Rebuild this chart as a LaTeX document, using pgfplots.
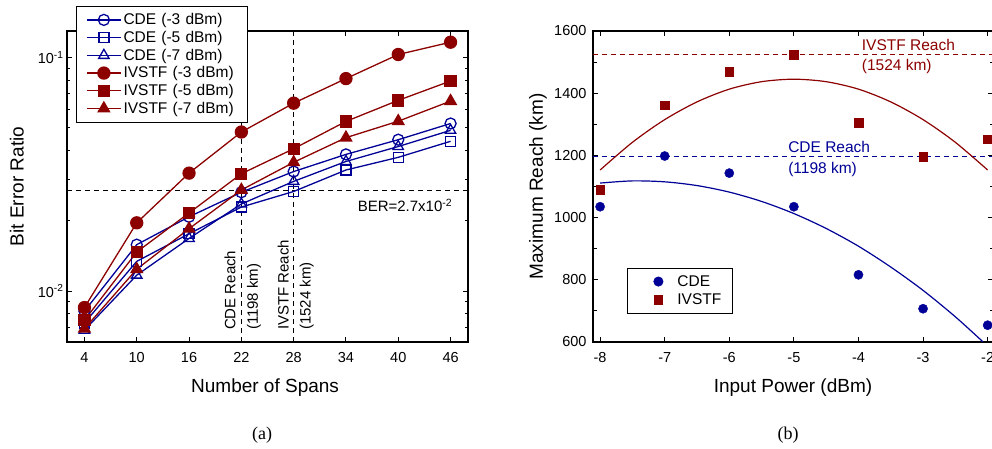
\documentclass[border=0pt]{standalone}
\usepackage{fontspec}
\setmainfont{Liberation Sans}
\newfontfamily\timesfont{Liberation Serif}
\usepackage{pgfplots}
\pgfplotsset{compat=1.18}
\usepackage{pgfplotstable}
\definecolor{cdeblue}{RGB}{0,0,150}
\definecolor{ivred}{RGB}{140,0,0}

\pgfplotstableread{
spans cde3   cde5   cde7   iv3    iv5    iv7
4     0.0082 0.0073 0.0068 0.0085 0.0075 0.0069
10    0.0158 0.0134 0.0117 0.0196 0.0147 0.0124
16    0.0208 0.0176 0.0168 0.0320 0.0216 0.0185
22    0.0265 0.0229 0.0236 0.0480 0.0318 0.0271
28    0.0325 0.0267 0.0295 0.0638 0.0407 0.0356
34    0.0385 0.0330 0.0359 0.0813 0.0533 0.0454
40    0.0445 0.0374 0.0416 0.1031 0.0656 0.0534
46    0.0522 0.0438 0.0488 0.1164 0.0794 0.0651
}\bertable

\pgfplotstableread{
p   cde  ivstf
-8  1035 1089
-7  1198 1361
-6  1143 1469
-5  1035 1524
-4  816  1306
-3  707  1196
-2  654  1252
}\reachtable

\tikzset{dashline/.style={line width=1pt, dash pattern=on 5pt off 4pt}}
\pgfplotsset{
  every axis/.append style={
    scale only axis,
    axis line style={line width=1.1pt},
    every tick/.style={black, line width=1pt},
    major tick length=5pt,
    minor tick length=3.5pt,
    tick align=inside,
    tick label style={font=\fontsize{14.5}{16}\selectfont},
    xticklabel style={yshift=-7pt},
    label style={font=\fontsize{19}{22}\selectfont},
    /pgf/number format/assume math mode=true,
    /pgf/number format/1000 sep={},
  },
}

\begin{document}
\begin{tikzpicture}
\path[use as bounding box] (0pt,0pt) rectangle (992pt,449pt);

% (a) BER against number of spans
\begin{axis}[
  at={(67pt,107pt)}, anchor=south west,
  width=401pt, height=311pt,
  ymode=log,
  xmin=2, xmax=48, ymin=0.00605, ymax=0.13,
  xtick={4,10,...,46},
  ytick={0.01,0.1},
  yticklabels={10\textsuperscript{-2},10\textsuperscript{-1}},
  minor ytick={0.007,0.008,0.009,0.02,0.03,0.04,0.05,0.06,0.07,0.08,0.09},
  xlabel={Number of Spans},
  ylabel={Bit Error Ratio},
  x label style={at={(axis description cs:0.494,-0.145)}, anchor=center},
  y label style={at={(axis description cs:-0.125,0.5)}, anchor=center},
  legend style={at={(axis description cs:0.022,1.080)}, anchor=north west,
    draw=black, line width=0.8pt, fill=white,
    font=\fontsize{15.5}{17}\selectfont, inner xsep=10pt, inner ysep=5pt,
    row sep=1pt, cells={anchor=west, text width=112pt}},
  legend image code/.code={
    \draw[mark repeat=2,mark phase=2,#1] plot coordinates {(0pt,0pt) (17pt,0pt) (34pt,0pt)};
  },
  every axis plot/.append style={line width=1.3pt},
]
\draw[dashline] (axis cs:2,0.027) -- (axis cs:48,0.027);
\draw[dashline] (axis cs:22,0.13) -- (axis cs:22,0.00605);
\draw[dashline] (axis cs:28,0.13) -- (axis cs:28,0.00605);

\addplot[cdeblue, mark=o, mark size=5.5pt, mark options={solid, fill=white, line width=1.3pt}] table[x=spans, y=cde3] {\bertable};
\addlegendentry{CDE (-3 dBm)}
\addplot[cdeblue, mark=square, mark size=5pt, mark options={solid, fill=white, line width=1.3pt}] table[x=spans, y=cde5] {\bertable};
\addlegendentry{CDE (-5 dBm)}
\addplot[cdeblue, mark=triangle, mark size=6pt, mark options={solid, fill=white, line width=1.3pt}] table[x=spans, y=cde7] {\bertable};
\addlegendentry{CDE (-7 dBm)}
\addplot[ivred, mark=*, mark size=6pt, mark options={solid, fill=ivred}] table[x=spans, y=iv3] {\bertable};
\addlegendentry{IVSTF (-3 dBm)}
\addplot[ivred, mark=square*, mark size=5.5pt, mark options={solid, fill=ivred}] table[x=spans, y=iv5] {\bertable};
\addlegendentry{IVSTF (-5 dBm)}
\addplot[ivred, mark=triangle*, mark size=6.5pt, mark options={solid, fill=ivred}] table[x=spans, y=iv7] {\bertable};
\addlegendentry{IVSTF (-7 dBm)}

\node[anchor=east, font=\fontsize{15}{17}\selectfont] at (axis cs:46.6,0.0232) {BER=2.7x10\textsuperscript{-2}};
\node[rotate=90, anchor=west, font=\fontsize{15}{17}\selectfont, inner sep=0pt] at (axis cs:20.7,0.0068) {CDE Reach};
\node[rotate=90, anchor=west, font=\fontsize{15}{17}\selectfont, inner sep=0pt] at (axis cs:23.45,0.0068) {(1198 km)};
\node[rotate=90, anchor=west, font=\fontsize{15}{17}\selectfont, inner sep=0pt] at (axis cs:26.8,0.0068) {IVSTF Reach};
\node[rotate=90, anchor=west, font=\fontsize{15}{17}\selectfont, inner sep=0pt] at (axis cs:29.5,0.0068) {(1524 km)};
\end{axis}

% (b) maximum reach against input power
\begin{axis}[
  at={(593pt,107pt)}, anchor=south west,
  width=400pt, height=311pt,
  xmin=-8.11, xmax=-1.917, ymin=600, ymax=1600,
  xtick={-8,-7,...,-2},
  ytick={600,800,...,1600},
  minor y tick num=1,
  yticklabel style={xshift=-3pt},
  xlabel={Input Power (dBm)},
  ylabel={Maximum Reach (km)},
  x label style={at={(axis description cs:0.5,-0.145)}, anchor=center},
  y label style={at={(axis description cs:-0.1375,0.5)}, anchor=center},
  legend style={at={(axis description cs:0.085,0.238)}, anchor=north west,
    draw=black, line width=0.8pt, fill=white,
    font=\fontsize{15.5}{17}\selectfont, inner xsep=3pt, inner ysep=5pt,
    row sep=2pt, cells={anchor=west, text width=50pt}},
  legend image code/.code={
    \path[draw=none] (0pt,0pt) -- (45pt,0pt);
    \draw[#1] plot[only marks] coordinates {(28pt,0pt)};
  },
]
\draw[dashline, ivred] (axis cs:-8.11,1524) -- (axis cs:-1.917,1524);
\draw[dashline, cdeblue] (axis cs:-8.11,1198) -- (axis cs:-1.917,1198);

\addplot[only marks, cdeblue, mark=*, mark size=4.6pt] table[x=p, y=cde] {\reachtable};
\addlegendentry{CDE}
\addplot[only marks, ivred, mark=square*, mark size=4.3pt] table[x=p, y=ivstf] {\reachtable};
\addlegendentry{IVSTF}

\addplot[forget plot, ivred, line width=1.2pt, smooth, no marks] coordinates {
(-8,1153) (-7.5,1242) (-7,1315) (-6.5,1372) (-6,1413) (-5.5,1437) (-5,1445)
(-4.5,1437) (-4,1413) (-3.5,1372) (-3,1315) (-2.5,1242) (-2,1153)};
\addplot[forget plot, cdeblue, line width=1.2pt, smooth, no marks] coordinates {
(-8,1111) (-7.5,1118) (-7,1115) (-6.5,1103) (-6,1082) (-5.5,1052) (-5,1013)
(-4.5,965) (-4,908) (-3.5,841) (-3,766) (-2.5,681) (-2.07,600)};

\node[anchor=west, text=ivred, font=\fontsize{15.5}{17}\selectfont, inner sep=0pt] at (axis cs:-3.95,1555) {IVSTF Reach};
\node[anchor=west, text=ivred, font=\fontsize{15.5}{17}\selectfont, inner sep=0pt] at (axis cs:-3.95,1485) {(1524 km)};
\node[anchor=west, text=cdeblue, font=\fontsize{15.5}{17}\selectfont, inner sep=0pt] at (axis cs:-5.09,1228) {CDE Reach};
\node[anchor=west, text=cdeblue, font=\fontsize{15.5}{17}\selectfont, inner sep=0pt] at (axis cs:-5.09,1156) {(1198 km)};
\end{axis}

\node[font=\timesfont\fontsize{18}{20}\selectfont] at (262pt,14pt) {(a)};
\node[font=\timesfont\fontsize{18}{20}\selectfont] at (788pt,14pt) {(b)};
\end{tikzpicture}
\end{document}
